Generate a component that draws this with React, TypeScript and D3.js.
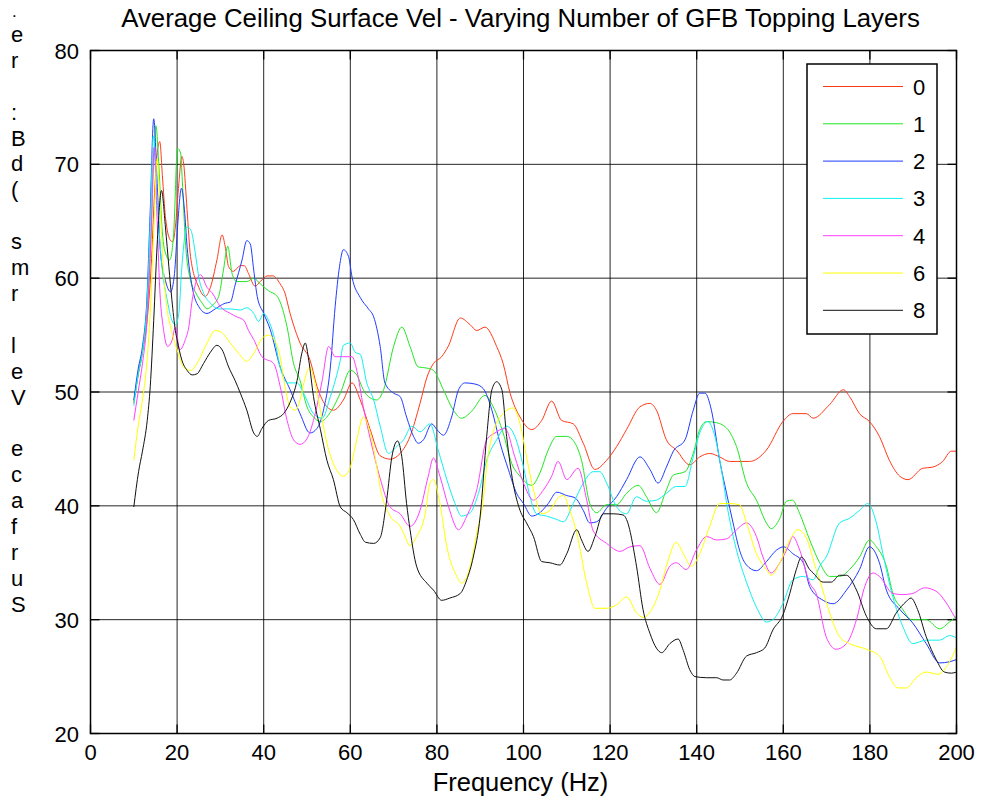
import React from "react";
import * as d3 from "d3";

const TITLE = "Average Ceiling Surface Vel - Varying Number of GFB Topping Layers";
const X_LABEL = "Frequency (Hz)";
const Y_LABEL_CHARS = [".", "e", "r", " ", ":", "B", "d", "(", " ", "s", "m", "r", " ", "l", "e", "V", " ", "e", "c", "a", "f", "r", "u", "S"];
const X_TICKS = [0, 20, 40, 60, 80, 100, 120, 140, 160, 180, 200];
const Y_TICKS = [20, 30, 40, 50, 60, 70, 80];
const LEGEND_LABELS = ["0", "1", "2", "3", "4", "6", "8"];
const COLORS = ["#ff3a1a", "#22e622", "#1e3cff", "#10f0f0", "#ff40ff", "#ffff00", "#111111"];

const layers0: [number, number][] = [[10,49],[11,51.5],[12,53.5],[13,56],[14,61],[14.8,67.5],[15.5,71.3],[16,72],[16.6,69],[17.3,65.4],[18.5,63.3],[19,63.2],[19.6,64.5],[20.4,68.3],[21.1,70.7],[21.5,70.1],[22.3,66],[23.1,61.9],[25,59.2],[26.5,58.4],[27.7,59.2],[29.2,61.6],[30.4,63.8],[31.1,62.8],[31.9,61],[33,60.6],[34.6,61.1],[35.5,61.1],[36.5,60.4],[38,59.3],[39.2,59.7],[40.8,60.2],[42.1,60.2],[43.8,59.5],[44.8,58.8],[46.1,56.9],[48.4,54.3],[50.7,52.8],[52.3,50.5],[54.6,48.7],[56.1,48.4],[58.4,49.3],[60.4,50.8],[62.3,49.3],[64.6,46.7],[66.9,44.4],[69.2,44.1],[71.5,44.6],[73.8,46.1],[76.1,49],[77.7,51.3],[79.2,52.5],[81.1,53.1],[82.6,54],[85.4,56.5],[87.7,55.9],[89.2,55.4],[91.1,55.7],[93.8,54],[95.3,52.5],[96.9,49.9],[99.2,47.8],[101.9,46.7],[104.2,47.5],[106.5,49.2],[108.8,47.5],[111.5,47.2],[113.8,45.5],[116.5,43.2],[119.2,44],[121.5,45.2],[123.8,46.7],[126.9,48.7],[129.2,49],[130.7,48.4],[133,45.8],[135.3,44.9],[138.4,43.6],[140.7,44.3],[143,44.6],[145.3,44.3],[147.6,43.9],[152.2,43.9],[156.1,44.9],[159.9,47.4],[162.2,48.1],[165.3,48.1],[166.9,47.7],[170.7,48.9],[173.9,50.2],[175.3,49.6],[177.6,48.1],[179.9,47.4],[182.2,46.1],[184.5,44],[186.9,42.6],[188.8,42.3],[192.2,43.3],[194.5,43.4],[196.8,43.9],[198.8,44.8],[200,44.8]];

const layers1: [number, number][] = [[10,49.2],[11,51.5],[12,53.5],[13,57],[14,64],[14.6,70.5],[15.1,73.4],[15.8,69.8],[16.5,64.5],[17.1,62.5],[18.3,61.6],[19.2,63.9],[20.1,71.4],[20.8,71],[21.2,68.6],[21.9,63.3],[23.1,59.8],[24.2,58.8],[25.8,57.8],[26.9,57.3],[28.1,57.6],[29.6,58.4],[30.7,60.7],[31.7,62.8],[32.7,60.4],[33.8,59.7],[36.1,59.7],[37.7,60],[39.2,59.5],[41.1,58.9],[43.1,58.4],[43.8,57.9],[45.4,55.7],[46.9,52.5],[48.4,51],[50,48.7],[51.5,47.8],[53.1,47.4],[55,48],[57.7,49.9],[60,51.9],[61.5,51.5],[63,50.2],[64.5,49.5],[66.1,49.3],[67.7,50.2],[70,54],[71.9,55.7],[73.8,54],[75.7,52.2],[77.7,52.1],[79.2,51.9],[81.5,50.2],[83.8,48.4],[85.7,47.7],[88,48.3],[91.1,49.7],[93,48.7],[95.3,46.4],[97.3,43.7],[99.2,42.6],[101.9,41.8],[103.8,42.9],[105.7,44.9],[107.7,46.1],[110,46.1],[111.9,45.5],[113.4,44],[115.3,40.2],[116.9,39.4],[119.2,40.1],[121.5,40.1],[123.8,41.1],[126.5,41.8],[128.4,40.8],[130.7,39.4],[133,41.4],[134.6,42.7],[137.3,43],[139.2,44.6],[140.7,46.7],[142.3,47.4],[144.6,47.3],[147.2,46.7],[149.2,45.2],[151.5,42],[153.8,40.5],[156.1,38.5],[157.2,38],[159.2,38.9],[160.7,40.4],[162.1,40.5],[163.8,39.3],[166.1,37],[168.4,35],[170.7,33.8],[173,33.8],[175.3,34.4],[177.6,35.5],[179.9,37],[181.5,36.4],[183.8,34.7],[185.3,32.3],[187.6,30.9],[189.5,30],[193,30],[196.1,29.2],[198.4,29.8],[200,30.3]];

const layers2: [number, number][] = [[10,49.3],[11,52],[12,54],[13,58],[13.8,66],[14.6,74],[15.4,68.3],[16.1,62.5],[17.3,59.8],[18.5,58.8],[19.4,60.4],[20.1,64.5],[21,67.9],[21.7,66],[22.3,62.8],[23.5,59.2],[25,57.5],[26.9,56.9],[28.8,57.3],[31.1,57.8],[32.3,57.9],[33.4,59.4],[35,61.6],[36.1,63.3],[36.9,63],[37.7,60.7],[38.5,58.4],[40,56.9],[41.5,55.5],[43.8,52.2],[46.1,50.2],[48.4,48.1],[50.7,46.4],[52.3,46.8],[53.8,48.4],[55.4,52.2],[56.5,57.5],[57.5,61],[58.4,62.5],[59.6,61.9],[60.4,60.1],[62.3,58.3],[64.2,57.3],[65.4,56.6],[66.9,54],[68,50.8],[70,49.9],[71.5,49.6],[73,47.8],[74.6,46.1],[75.7,45.5],[76.9,45.8],[78.8,47.2],[80,46.7],[81.5,46.2],[83.4,47.8],[85,50.2],[86.5,50.8],[88.8,50.7],[90.7,50.3],[92.7,48.4],[94.6,45.5],[96.5,43.2],[98.4,41.1],[100,40.2],[101.9,39.1],[103.8,39.4],[105.7,40.2],[107.7,41.2],[110,40.9],[111.9,40.7],[113.8,39.6],[115.3,38.5],[116.9,38.6],[119.2,39.8],[121.5,40.8],[123.8,42.3],[126.9,44.3],[129.2,43.2],[131.1,42],[133,43.4],[134.6,44.8],[137.3,45.8],[139.2,48.4],[140.7,49.9],[141.9,49.9],[143.4,48.4],[145.3,44],[146.9,41.1],[148.4,38.5],[149.9,36.1],[151.5,34.8],[153.8,34.3],[156.1,35.1],[158.4,36.1],[160.1,36.4],[162.2,35.8],[164.6,35],[166.1,32.9],[169.2,31.7],[171.5,31.4],[174.6,32.6],[177.6,34.4],[179.9,36.4],[182.2,35],[183.8,32.6],[186.9,30.9],[189.9,29.7],[193,27.9],[196.1,26.2],[198.4,26.3],[200,26.5]];

const layers3: [number, number][] = [[10,48.8],[11,51.5],[12,53.5],[13,57.5],[13.9,66],[14.5,72.5],[15.4,66.9],[16.5,61],[17.7,58.1],[18.8,56.3],[19.6,55.9],[20.4,56.9],[21.1,61],[22.3,64.5],[23.2,64.2],[24.2,62.2],[25,60.1],[26.1,58.7],[27.7,57.8],[29.6,57.3],[32.3,57.3],[34.6,57.2],[36.1,57.4],[37.7,56.9],[38.8,56.2],[40,56.9],[41.1,56.3],[42.3,55],[43.8,52.2],[45.4,50.8],[47.7,50.8],[49.2,49.9],[51.5,48.1],[53.5,47.7],[55.4,49.6],[57.7,52.8],[58.4,54.1],[60,54.3],[61.1,53.5],[62.3,53.3],[63.8,50.8],[65.4,49.3],[66.9,47],[68.8,44.6],[70.7,45.2],[72.3,45.8],[74.2,47],[76.1,46.5],[78.4,47.2],[80.3,44.9],[82.3,42.3],[84.2,40.2],[85.7,39.1],[87.7,39.4],[89.6,41.1],[91.5,44],[93.8,45.8],[96.1,47],[98,46.1],[100,43.4],[101.5,40.8],[103,39.3],[105.3,39.1],[107.7,38.8],[109.2,38.6],[111.5,40.2],[113.8,42],[116.1,43],[117.6,43],[119.2,42],[121.5,39.9],[123.8,39.3],[126.1,40.8],[128.4,40.4],[130.7,40.5],[133,41.1],[135.3,41.7],[137.3,41.7],[139.2,44.3],[140.7,46.4],[142.6,47.4],[144.2,46.1],[145.7,43.2],[147.2,39.6],[149.2,36.1],[151.5,33.3],[153.8,31.1],[156.1,29.8],[157.6,30],[159.9,31.4],[162.2,33.5],[164.6,33.8],[166.9,33.5],[168.4,34.7],[169.9,35.5],[173,38.5],[175.3,38.9],[177.6,39.6],[179.5,40.2],[181.5,38.5],[183,35.8],[185.3,32],[187.6,29.4],[189.9,27.9],[193,28.2],[196.1,28.2],[198.4,28.6],[200,28.4]];

const layers4: [number, number][] = [[10,47.5],[11,50],[12,52.5],[13,56],[14,64],[14.7,71.5],[15.3,66],[16,59],[16.9,55.4],[17.8,54],[18.8,54.5],[19.6,55.7],[20.6,53.7],[21.9,54.6],[22.7,55.7],[23.5,58.1],[25.4,60.3],[26.9,59.2],[28.1,58.7],[30,57.5],[32.3,56.9],[33.8,56.6],[35.4,56.3],[36.5,55.4],[37.7,54.6],[39.6,53.1],[42.3,52.5],[43.8,50.5],[45.4,47.5],[46.9,45.8],[48.4,45.4],[50,45.9],[51.5,47.5],[53.5,51],[55,54],[56.5,53.1],[58.4,53.1],[60.4,53.1],[61.5,51.9],[63,48.7],[64.6,45.9],[66.9,42.4],[69.2,39.9],[71.5,39.3],[73.8,38.2],[76.1,39.6],[78,42.6],[79.2,44.2],[80.7,42.6],[82.7,39.9],[85,37.9],[86.9,39.1],[89.2,41.4],[91.5,45.8],[93.4,46.4],[95.7,46.8],[98,44.3],[100,42],[102.3,40.5],[104.6,41.4],[106.5,42.6],[108,43.9],[110,42.3],[112.6,43.3],[114.6,40.5],[116.1,37.8],[119.2,36.7],[122.3,36],[124.6,36.4],[126.9,36.5],[129.2,34.5],[131.5,33.1],[133.8,34.7],[135.3,35],[137.6,34.4],[139.9,36.1],[142.3,37.3],[144.6,37],[146.9,37.1],[149.2,37.9],[151.5,38.5],[153.8,37.3],[155.3,35.5],[157.2,34.1],[159.2,35],[161.1,36.4],[162.2,37.3],[163.8,36.1],[166.1,33.2],[167.6,32.3],[169.9,28.5],[172.2,27.4],[174.6,27.9],[176.9,30],[178.8,32.9],[180.7,34.1],[182.2,33.8],[185.3,32.3],[187.6,32.2],[189.9,32.3],[192.6,32.8],[195.3,32.5],[197.6,31.5],[199.5,30.3],[200,30]];

const layers6: [number, number][] = [[10,44],[11,47],[12,49.3],[13,52.5],[13.8,57],[14.6,64],[15.4,70.5],[16,67],[16.8,61],[17.6,57.5],[18.5,55.7],[20,53.7],[21.5,52.2],[23.1,51.9],[24.6,52.5],[26.9,54.3],[28.8,55.4],[30,55.3],[32.3,54.3],[34.2,53.4],[36.1,52.7],[37.7,53.4],[39.6,54.7],[41.1,55],[42.7,54.4],[43.8,53.1],[44.9,50.5],[46.1,48.7],[47.3,48.4],[48.4,49.3],[49.6,51.3],[50.7,52.2],[51.5,51.3],[53.1,48.4],[54.6,45.5],[56.9,43.1],[58.4,42.6],[60,43.4],[61.5,45.8],[63,47.8],[64.6,46.4],[66.1,43.5],[66.9,41.6],[69.2,39.1],[71.5,38.2],[72.3,37.6],[73.8,36.5],[75.3,37.3],[77.3,39.3],[78.4,42],[79.2,42.3],[80.7,40.2],[82.3,36.4],[84.6,33.8],[85.7,33.2],[87.7,34.7],[89.2,37.6],[90.7,40.5],[91.5,43.5],[93,46.5],[95.3,48.1],[97.6,48.6],[99.2,47.2],[100.7,44.3],[102.3,41.4],[104.2,39.3],[106.1,39.6],[108,40.7],[109.2,40.9],[110.7,39.6],[112.3,37.6],[114.6,33.2],[116.5,31],[119.2,31],[121.5,31.3],[123.8,32],[126.1,30.6],[127.6,30.2],[129.9,31.1],[131.5,32.6],[133,34.7],[135.3,36.8],[136.9,35.8],[138.8,34.7],[140.7,35.8],[143,38.2],[145.3,40.2],[147.6,40.2],[149.9,40.1],[151.5,38.5],[153.8,35.8],[156.1,34.4],[157.2,33.9],[159.2,35],[161.5,37],[163.4,37.9],[165.3,37.2],[167.6,34.4],[168.4,33.5],[170.7,30.6],[173,28.5],[175.3,27.9],[179.2,27.4],[182.2,26.8],[184.5,25],[186.5,24],[188.4,24],[190.7,24.9],[193,25.4],[195.7,25.2],[197.6,25.8],[200,27.6]];

const layers8: [number, number][] = [[10,39.9],[11.1,43],[12,44.8],[13.1,47.5],[13.8,50.5],[14.6,56.3],[15.4,63],[16.4,67.7],[17.3,64.5],[18.1,61],[18.8,58.1],[19.6,55.4],[20,54.6],[21.1,52.8],[22.3,51.9],[23.5,51.5],[24.6,51.6],[26.1,52.5],[27.7,53.5],[29.2,54.1],[30.4,53.7],[31.9,52.2],[33.4,51],[34.6,49.9],[36.1,48.4],[37.7,46.4],[38.5,46.1],[39.6,46.8],[41.1,47.5],[43.1,47.7],[44.6,48.1],[46.1,49.1],[47.7,51],[48.8,53.4],[49.6,54.3],[50.4,52.8],[51.5,49.6],[53.1,46.7],[54.6,44],[56.1,42.3],[57.7,39.9],[59.2,39.4],[60.7,38.8],[62.3,37.5],[63.5,36.8],[65.4,36.7],[66.9,37.2],[68.4,40.5],[69.6,44.3],[70.9,45.7],[71.9,44.3],[73,40.2],[73.8,37.9],[75.3,34.7],[77.7,33.2],[79.2,32.6],[81.1,31.7],[83,31.9],[85.4,32.3],[86.9,33.5],[88.4,35.5],[90,39.1],[91.5,46.1],[92.7,50.2],[93.8,50.9],[95,50.2],[96.1,46.1],[97.6,42],[99.2,39.6],[100.7,38.5],[102.3,37.3],[104.2,35.1],[106.1,35],[108.4,34.8],[110,35.8],[112.3,37.9],[113.4,37],[114.9,36],[116.5,37.3],[118.4,39.3],[120.7,39.3],[123,39.2],[123.8,38.8],[126.1,34.7],[127.6,30.9],[129.2,28.8],[130.7,27.5],[131.9,27.1],[133.8,27.9],[135.7,28.3],[136.9,27.3],[138.4,25.6],[139.6,25],[142.3,24.9],[144.6,24.9],[146.1,24.7],[147.6,24.7],[149.2,25.3],[151.5,26.8],[153.8,27.1],[155.7,27.5],[157.6,29.1],[159.9,30.4],[161.5,32.3],[163,34.4],[164.2,35.5],[166.1,34.4],[166.9,34.1],[169.2,33.3],[171.1,33.3],[173,33.9],[174.6,33.9],[176.9,32.6],[179.2,30.3],[181.5,29.2],[183.8,29.2],[186.1,30.6],[188.4,31.6],[189.5,31.9],[191,30.9],[193,28.5],[195.3,26.5],[197.2,25.4],[198.8,25.3],[200,25.4]];

const SERIES = [layers0, layers1, layers2, layers3, layers4, layers6, layers8];

const FONT = "'Liberation Sans', Arial, Helvetica, sans-serif";

export default function App() {
  const W = 981, H = 801;
  const left = 90.5, right = 956.5, top = 50.5, bottom = 733.5;
  const x = d3.scaleLinear().domain([0, 200]).range([left, right]);
  const y = d3.scaleLinear().domain([20, 80]).range([bottom, top]);
  const line = d3.line<[number, number]>()
    .x(d => x(d[0]))
    .y(d => y(d[1]))
    .curve(d3.curveMonotoneX);

  const legX = 807, legY = 64, legW = 130, legH = 270;
  const rowStep = 37.3, row0 = 86.5;

  return (
    <svg width={W} height={H} style={{ position: "absolute", left: 0, top: 0, display: "block", background: "#fff" }}
      fontFamily={FONT}>
      <rect x={0} y={0} width={W} height={H} fill="#fff" />
      <text x={(left + right) / 2 - 3} y={27} textAnchor="middle" fontSize={25.8} fill="#000">{TITLE}</text>
      {/* grid */}
      {X_TICKS.slice(1, -1).map(t => (
        <line key={"gx" + t} x1={x(t)} x2={x(t)} y1={top} y2={bottom} stroke="#000" strokeWidth={1} opacity={0.85} />
      ))}
      {Y_TICKS.slice(1, -1).map(t => (
        <line key={"gy" + t} x1={left} x2={right} y1={y(t)} y2={y(t)} stroke="#000" strokeWidth={1} opacity={0.85} />
      ))}
      {/* ticks */}
      {X_TICKS.map(t => (
        <g key={"tx" + t}>
          <line x1={x(t)} x2={x(t)} y1={bottom} y2={bottom - 9} stroke="#000" strokeWidth={1.3} />
          <line x1={x(t)} x2={x(t)} y1={top} y2={top + 9} stroke="#000" strokeWidth={1.3} />
        </g>
      ))}
      {Y_TICKS.map(t => (
        <g key={"ty" + t}>
          <line x1={left} x2={left + 9} y1={y(t)} y2={y(t)} stroke="#000" strokeWidth={1.3} />
          <line x1={right} x2={right - 9} y1={y(t)} y2={y(t)} stroke="#000" strokeWidth={1.3} />
        </g>
      ))}
      {/* series */}
      {SERIES.map((s, i) => (
        <path key={"s" + i} d={line(s) || ""} fill="none" stroke={COLORS[i]} strokeWidth={1} />
      ))}
      {/* frame */}
      <rect x={left} y={top} width={right - left} height={bottom - top} fill="none" stroke="#000" strokeWidth={1.5} />
      {/* tick labels */}
      {X_TICKS.map(t => (
        <text key={"lx" + t} x={x(t)} y={760} textAnchor="middle" fontSize={22} fill="#000">{t}</text>
      ))}
      {Y_TICKS.map(t => (
        <text key={"ly" + t} x={79} y={y(t) + 8} textAnchor="end" fontSize={22} fill="#000">{t}</text>
      ))}
      <text x={(left + right) / 2 - 3} y={791} textAnchor="middle" fontSize={25.5} fill="#000">{X_LABEL}</text>
      {Y_LABEL_CHARS.map((c, i) => (
        <text key={"yl" + i} x={i === 0 ? 12 : 11} y={i === 0 ? 17 : 16 + i * 25.9} fontSize={i === 0 ? 17 : 22} fill="#000">{c}</text>
      ))}
      {/* legend */}
      <rect x={legX} y={legY} width={legW} height={legH} fill="#fff" stroke="#000" strokeWidth={1.5} />
      {LEGEND_LABELS.map((lab, i) => (
        <g key={"lg" + i}>
          <line x1={823} x2={903} y1={row0 + i * rowStep} y2={row0 + i * rowStep} stroke={COLORS[i]} strokeWidth={1} />
          <text x={913} y={row0 + i * rowStep + 8} fontSize={22} fill="#000">{lab}</text>
        </g>
      ))}
    </svg>
  );
}
